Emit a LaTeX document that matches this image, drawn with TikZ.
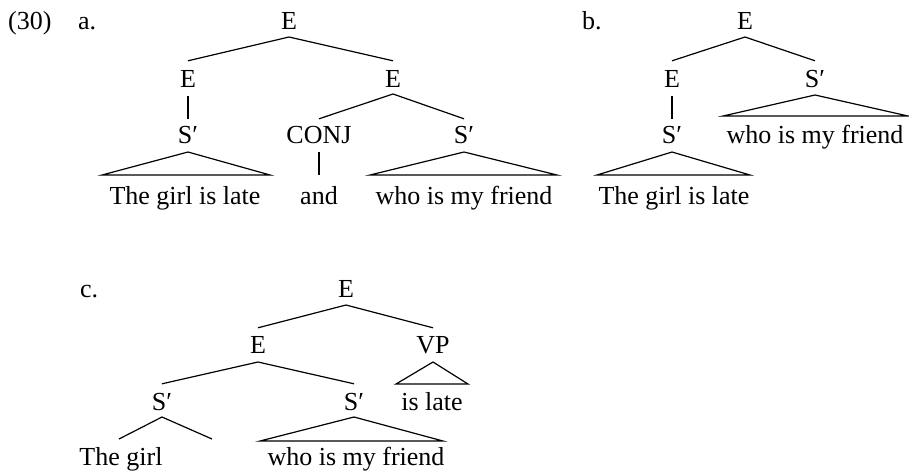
\documentclass[tikz,border=0pt]{standalone}
\usepackage{fontspec}
\setmainfont{Liberation Serif}
\begin{document}
\begin{tikzpicture}[x=1pt,y=-1pt,
  lab/.style={anchor=base,inner sep=0pt,text height=15pt,text depth=0pt,font=\fontsize{26}{30}\selectfont},
  br/.style={line width=1.2pt}]
\useasboundingbox (0,0) rectangle (909,472);
% labels
\node[lab,anchor=base west] (num) at (8,29) {(30)};
\node[lab,anchor=base west] (la) at (78,29) {a.};
\node[lab,anchor=base west] (lb) at (582,29) {b.};
\node[lab,anchor=base west] (lc) at (80,297) {c.};
% tree a
\node[lab] (a0) at (289,29) {E};
\node[lab] (a1) at (188,87) {E};
\node[lab] (a2) at (393,87) {E};
\node[lab] (a11) at (188,143) {S′};
\node[lab] (a21) at (319,143) {CONJ};
\node[lab] (a22) at (464,143) {S′};
\node[lab] (a111) at (185,204) {The girl is late};
\node[lab] (a211) at (319,204) {and};
\node[lab] (a221) at (464,204) {who is my friend};
\coordinate (a11L) at (102,175);
\coordinate (a11R) at (270,175);
\coordinate (a22L) at (370,175);
\coordinate (a22R) at (557,175);
\draw[br] ([yshift=11pt]a1.north) -- ([yshift=-8pt]a0.base) -- ([yshift=11pt]a2.north);
\draw[br] ([yshift=-9pt]a1.base) -- ([yshift=9pt]a11.north);
\draw[br] ([yshift=9pt]a21.north) -- ([yshift=-7pt]a2.base) -- ([yshift=9pt]a22.north);
\draw[br] ([yshift=-9pt]a11.base) -- (a11R) -- (a11L) -- cycle;
\draw[br] ([yshift=-9pt]a21.base) -- ([yshift=14pt]a211.north);
\draw[br] ([yshift=-9pt]a22.base) -- (a22R) -- (a22L) -- cycle;
% tree b
\node[lab] (b0) at (745,29) {E};
\node[lab] (b1) at (672,87) {E};
\node[lab] (b2) at (815,87) {S′};
\node[lab] (b11) at (672,143) {S′};
\node[lab] (b111) at (674,204) {The girl is late};
\node[lab] (b21) at (815,143) {who is my friend};
\coordinate (b11L) at (597,175);
\coordinate (b11R) at (750,175);
\coordinate (b2L) at (723,116);
\coordinate (b2R) at (908,116);
\draw[br] ([yshift=11pt]b1.north) -- ([yshift=-8pt]b0.base) -- ([yshift=11pt]b2.north);
\draw[br] ([yshift=-9pt]b1.base) -- ([yshift=9pt]b11.north);
\draw[br] ([yshift=-9pt]b11.base) -- (b11R) -- (b11L) -- cycle;
\draw[br] ([yshift=-8pt]b2.base) -- (b2R) -- (b2L) -- cycle;
% tree c
\node[lab] (c0) at (346,297) {E};
\node[lab] (c1) at (258,353) {E};
\node[lab] (c2) at (433,353) {VP};
\node[lab] (c11) at (162,410) {S′};
\node[lab] (c12) at (354,410) {S′};
\node[lab] (c21) at (432,410) {is late};
\node[lab] (c111) at (121,465) {The girl};
\node[lab] (c121) at (356,465) {who is my friend};
\coordinate (c11L) at (119,439);
\coordinate (c11R) at (212,439);
\coordinate (c12L) at (260,441);
\coordinate (c12R) at (443,441);
\coordinate (c2L) at (396,384);
\coordinate (c2R) at (468,384);
\draw[br] ([yshift=10pt]c1.north) -- ([yshift=-8pt]c0.base) -- ([yshift=10pt]c2.north);
\draw[br] ([yshift=11pt]c11.north) -- ([yshift=-9pt]c1.base) -- ([yshift=11pt]c12.north);
\draw[br] ([yshift=-9pt]c2.base) -- (c2R) -- (c2L) -- cycle;
\draw[br] (c11L) -- ([yshift=-7pt]c11.base) -- (c11R);
\draw[br] ([yshift=-7pt]c12.base) -- (c12R) -- (c12L) -- cycle;
\end{tikzpicture}
\end{document}
